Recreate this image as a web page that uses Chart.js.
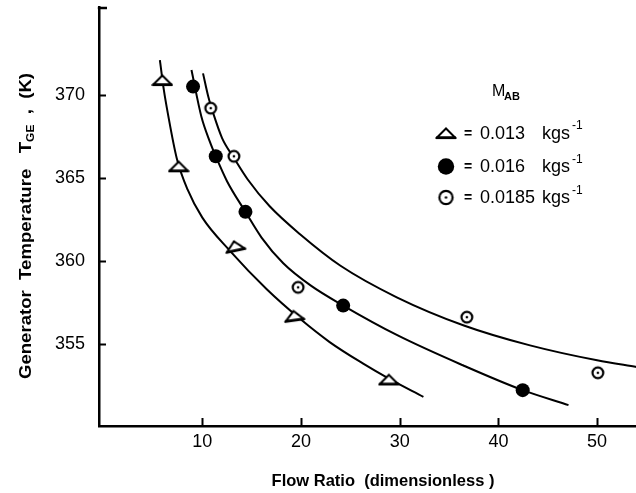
<!DOCTYPE html>
<html><head><meta charset="utf-8">
<script src="https://cdn.jsdelivr.net/npm/chart.js@4.4.1/dist/chart.umd.min.js"></script>
<style>
html,body{margin:0;padding:0;background:#fff;overflow:hidden;width:636px;height:493px}
#wrap{position:relative;width:667px;height:493px}
</style></head>
<body><div id="wrap"><canvas id="c" width="667" height="493"></canvas></div>
<script>
// ---- data ----
const seriesLabels = ['0.013', '0.016', '0.0185'];
const triX  = [5.95, 7.6, 13.3, 19.3, 28.9];
const triY  = [370.9, 365.7, 360.9, 356.7, 352.85];
const dotX  = [9.06, 11.36, 14.37, 24.27, 42.46];
const dotY  = [370.5, 366.3, 362.95, 357.3, 352.2];
const ringX = [10.85, 13.2, 19.7, 36.8, 50.07];
const ringY = [369.2, 366.3, 358.4, 356.6, 353.25];
const curveTriX  = [5.7, 6.1, 6.5, 7.4, 8.5, 10.0, 12.8, 16.5, 19.9, 22.9, 26.3, 28.9, 32.4];
const curveTriY  = [372.1, 370.3, 368.9, 366.2, 364.3, 362.6, 360.6, 358.3, 356.5, 355.1, 353.8, 352.9, 351.8];
const curveDotX  = [8.9, 9.9, 10.75, 11.36, 12.5, 14.37, 16.0, 18.2, 21.0, 24.27, 29.8, 36.4, 42.46, 47.1];
const curveDotY  = [371.5, 368.7, 367.2, 366.3, 364.8, 362.95, 361.4, 359.85, 358.5, 357.3, 355.5, 353.7, 352.2, 351.3];
const curveRingX = [10.07, 10.6, 11.1, 12.0, 13.2, 14.6, 16.8, 19.9, 24.0, 29.7, 36.5, 43.2, 50.0, 54.0];
const curveRingY = [371.3, 369.9, 368.9, 367.4, 366.2, 364.9, 363.3, 361.6, 359.7, 357.8, 356.1, 354.9, 354.0, 353.6];
const triRotation = [0, 0, -12, -8, 0];
const xTicks = [10, 20, 30, 40, 50];
const yTicks = [355, 360, 365, 370];
const xTitle = 'Flow Ratio  (dimensionless )';

const zip = (xs, ys) => xs.map((x, i) => ({x: x, y: ys[i]}));
const FONT = "'Liberation Sans', Arial, sans-serif";

// ---- marker images ----
function triImg() {
  const c = document.createElement('canvas'); c.width = 22; c.height = 14;
  const g = c.getContext('2d');
  g.beginPath(); g.moveTo(2, 11.5); g.lineTo(11, 2.5); g.lineTo(20, 11.5); g.closePath();
  g.fillStyle = '#fff'; g.fill(); g.lineWidth = 2; g.strokeStyle = '#000'; g.stroke();
  g.beginPath(); g.moveTo(1, 11.8); g.lineTo(21, 11.8); g.lineWidth = 2.6; g.stroke();
  return c;
}
function ringImg(r) {
  const s = Math.ceil(2 * r + 5); const c = document.createElement('canvas'); c.width = s; c.height = s;
  const g = c.getContext('2d');
  g.beginPath(); g.arc(s / 2, s / 2, r, 0, Math.PI * 2); g.fillStyle = '#fff'; g.fill();
  g.lineWidth = 2.2; g.strokeStyle = '#000'; g.stroke();
  g.beginPath(); g.arc(s / 2, s / 2, 1.3, 0, Math.PI * 2); g.fillStyle = '#000'; g.fill();
  return c;
}
const TRI = triImg(), RING = ringImg(5.4), RING_L = ringImg(6.6);

const curveDS = (xs, ys) => ({type: 'scatter', showLine: true, data: zip(xs, ys), borderColor: '#000',
  borderWidth: 2, pointRadius: 0, pointHoverRadius: 0, cubicInterpolationMode: 'monotone', fill: false, order: 2});

const deco = {
  id: 'deco',
  afterDraw(chart) {
    const ctx = chart.ctx, xs = chart.scales.x, ys = chart.scales.y;
    ctx.save();
    ctx.strokeStyle = '#000'; ctx.fillStyle = '#000'; ctx.lineCap = 'butt';
    // inward tick marks
    ctx.lineWidth = 2;
    xTicks.forEach(v => { const p = Math.round(xs.getPixelForValue(v)) + 0.5;
      ctx.beginPath(); ctx.moveTo(p, ys.bottom); ctx.lineTo(p, ys.bottom - 8); ctx.stroke(); });
    yTicks.forEach(v => { const p = Math.round(ys.getPixelForValue(v)) + 0.5;
      ctx.beginPath(); ctx.moveTo(xs.left, p); ctx.lineTo(xs.left + 7, p); ctx.stroke(); });
    ctx.lineWidth = 2.5;
    ctx.beginPath(); ctx.moveTo(xs.left - 1.2, ys.top + 1); ctx.lineTo(xs.left + 8, ys.top + 1); ctx.stroke();

    // y-axis title with subscript
    ctx.save();
    ctx.translate(26, 226); ctx.rotate(-Math.PI / 2);
    const segs = [
      {t: 'Generator  Temperature', f: 'bold 17px ' + FONT, dy: 0},
      {t: '   T', f: 'bold 17px ' + FONT, dy: 0},
      {t: 'GE', f: 'bold 11px ' + FONT, dy: 5},
      {t: '  ,  (K)', f: 'bold 17px ' + FONT, dy: 0}];
    let w = 0; segs.forEach(s => { ctx.font = s.f; w += ctx.measureText(s.t).width; });
    const target = 306; const k = target / w;
    ctx.scale(k, 1);
    let x = -w / 2; ctx.textBaseline = 'middle'; ctx.textAlign = 'left';
    segs.forEach(s => { ctx.font = s.f; ctx.fillText(s.t, x, s.dy); x += ctx.measureText(s.t).width; });
    ctx.restore();

    // legend
    ctx.textBaseline = 'alphabetic'; ctx.textAlign = 'left';
    ctx.font = '16px ' + FONT; ctx.fillText('M', 492, 96);
    ctx.font = 'bold 11px ' + FONT; ctx.fillText('AB', 504, 100);
    const ly = [133, 166.5, 197.5];
    ly.forEach((y, i) => {
      if (i === 0) ctx.drawImage(TRI, 446 - 11, y - 7);
      else if (i === 1) { ctx.beginPath(); ctx.arc(446, y, 8.2, 0, Math.PI * 2); ctx.fill(); }
      else ctx.drawImage(RING_L, 446 - RING_L.width / 2, y - RING_L.height / 2);
      ctx.textBaseline = 'middle';
      ctx.font = 'bold 14px ' + FONT; ctx.fillText('=', 464, y + 1);
      ctx.font = '18px ' + FONT; ctx.fillText(seriesLabels[i], 480, y + 1);
      ctx.fillText('kgs', 542, y + 1);
      ctx.font = '12px ' + FONT; ctx.fillText('-1', 572, y - 7);
    });
    ctx.restore();
  }
};

new Chart(document.getElementById('c'), {
  type: 'scatter',
  data: {
    datasets: [
      {label: seriesLabels[0], data: zip(triX, triY), pointStyle: TRI, pointRadius: 8, pointHoverRadius: 8,
        rotation: triRotation, order: 0},
      {label: seriesLabels[1], data: zip(dotX, dotY), pointStyle: 'circle', pointRadius: 7, pointHoverRadius: 7,
        backgroundColor: '#000', borderColor: '#000', borderWidth: 0, order: 0},
      {label: seriesLabels[2], data: zip(ringX, ringY), pointStyle: RING, pointRadius: 7, pointHoverRadius: 7, order: 0},
      curveDS(curveTriX, curveTriY),
      curveDS(curveDotX, curveDotY),
      curveDS(curveRingX, curveRingY)
    ]
  },
  options: {
    responsive: false, animation: false, devicePixelRatio: 1, events: [],
    layout: {autoPadding: false, padding: {top: 7, left: 0, right: 0, bottom: 0}},
    plugins: {legend: {display: false}, tooltip: {enabled: false}},
    scales: {
      x: {
        type: 'linear', min: -0.47, max: 57.08,
        afterBuildTicks: s => { s.ticks = xTicks.map(v => ({value: v})); },
        afterFit: s => { s.height = 67; s.paddingLeft = 0; s.paddingRight = 0; },
        grid: {display: false, drawTicks: false},
        border: {display: true, width: 2.5, color: '#000'},
        ticks: {color: '#000', font: {family: FONT, size: 18}, padding: 5, maxRotation: 0, autoSkip: false},
        title: {display: true, text: xTitle, color: '#000', font: {family: FONT, size: 16.5, weight: 'bold', lineHeight: 1},
          padding: {top: 0, bottom: 3}}
      },
      y: {
        type: 'linear', min: 350.04, max: 375.3,
        afterBuildTicks: s => { s.ticks = yTicks.map(v => ({value: v})); },
        afterFit: s => { s.width = 99; s.paddingTop = 0; s.paddingBottom = 0; },
        grid: {display: false, drawTicks: false},
        border: {display: true, width: 2.5, color: '#000'},
        ticks: {color: '#000', font: {family: FONT, size: 18}, padding: 14}
      }
    }
  },
  plugins: [deco]
});
</script>
</body></html>
